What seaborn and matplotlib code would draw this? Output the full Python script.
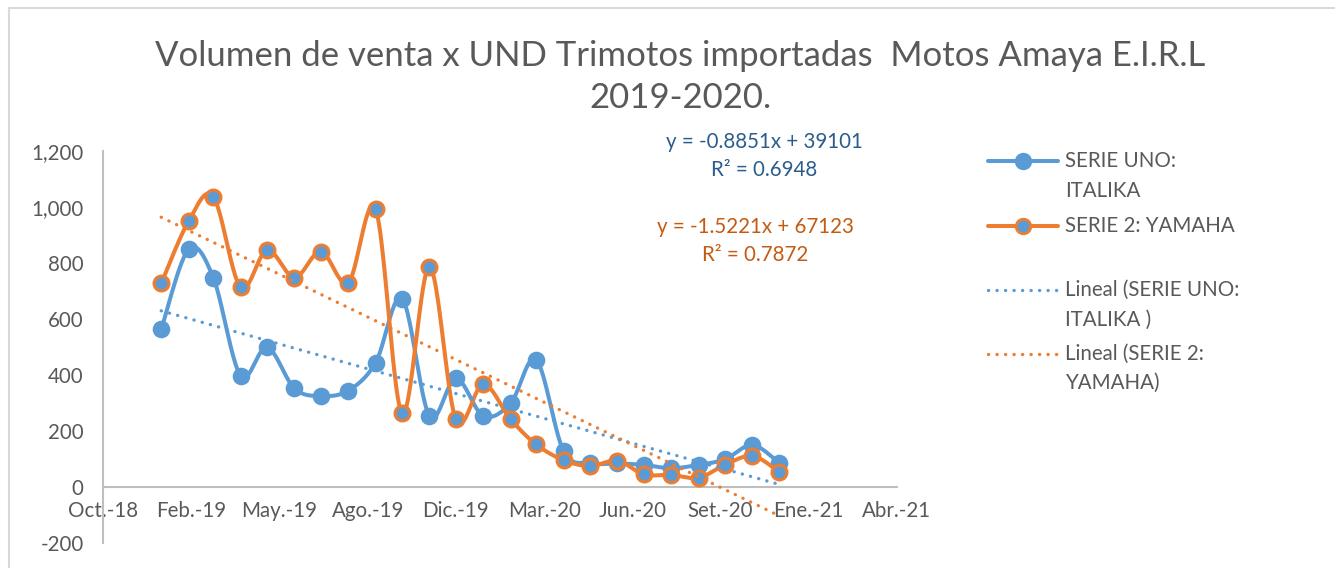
import numpy as np
import pandas as pd
import matplotlib
matplotlib.use("Agg")
import matplotlib.pyplot as plt
from matplotlib.lines import Line2D
import seaborn as sns

# monthly sales, Jan-2019 .. Dec-2020
months = pd.date_range("2019-01-01", "2020-12-01", freq="MS")
italika = [563, 849, 748, 398, 499, 352, 325, 344, 444, 673, 254, 388,
           254, 299, 454, 129, 85, 84, 79, 67, 79, 99, 150, 87]
yamaha = [727, 949, 1037, 713, 846, 748, 841, 730, 992, 263, 786, 242,
          367, 242, 152, 96, 75, 94, 45, 43, 33, 79, 111, 55]

# trendline coefficients shown on the chart (x = excel serial date)
trend_italika = (-0.8851, 39101)
trend_yamaha = (-1.5221, 67123)

tick_serials = [43400, 43500, 43600, 43700, 43800, 43900, 44000, 44100, 44200, 44300]
tick_labels = ["Oct.-18", "Feb.-19", "May.-19", "Ago.-19", "Dic.-19",
               "Mar.-20", "Jun.-20", "Set.-20", "Ene.-21", "Abr.-21"]
y_ticks = [-200, 0, 200, 400, 600, 800, 1000, 1200]

BLUE = "#5B9BD5"
ORANGE = "#ED7D31"
GREY = "#595959"
FS = 14.8

serial = np.array([(d - pd.Timestamp("1899-12-30")).days for d in months], dtype=float)


def smooth(x, y, n=24):
    # excel-like smoothed line (catmull-rom as cubic bezier)
    pts = np.column_stack([x, y]).astype(float)
    out = []
    for i in range(len(pts) - 1):
        p0 = pts[max(i - 1, 0)]
        p1 = pts[i]
        p2 = pts[i + 1]
        p3 = pts[min(i + 2, len(pts) - 1)]
        c1 = p1 + (p2 - p0) / 6
        c2 = p2 - (p3 - p1) / 6
        t = np.linspace(0, 1, n, endpoint=(i == len(pts) - 2))[:, None]
        out.append((1 - t) ** 3 * p1 + 3 * (1 - t) ** 2 * t * c1 + 3 * (1 - t) * t ** 2 * c2 + t ** 3 * p2)
    return np.vstack(out)


sns.set_theme(style="white")
plt.rcParams["font.family"] = ["Lato", "DejaVu Sans"]

W, H = 1335, 568
fig = plt.figure(figsize=(W / 100, H / 100), dpi=100)
ax = fig.add_axes([103 / W, 1 - 543 / H, (897 - 103) / W, (543 - 151) / H])

s1 = smooth(serial, italika)
s2 = smooth(serial, yamaha)
sns.lineplot(x=s1[:, 0], y=s1[:, 1], sort=False, color=BLUE, lw=2.9, ax=ax, zorder=2)
sns.scatterplot(x=serial, y=italika, s=125, color=BLUE, edgecolor=BLUE, linewidth=1.5, ax=ax, zorder=3)
sns.lineplot(x=s2[:, 0], y=s2[:, 1], sort=False, color=ORANGE, lw=2.9, ax=ax, zorder=4)
sns.scatterplot(x=serial, y=yamaha, s=115, color=BLUE, edgecolor=ORANGE, linewidth=2.2, ax=ax, zorder=5)

tx = np.array([serial[0], serial[-1]])
dot = (0, (0.05, 2.5))
sns.lineplot(x=tx, y=trend_italika[0] * tx + trend_italika[1], color=BLUE, lw=2.4,
             ax=ax, zorder=6).lines[-1].set(linestyle=dot, dash_capstyle="round")
sns.lineplot(x=tx, y=trend_yamaha[0] * tx + trend_yamaha[1], color=ORANGE, lw=2.4,
             ax=ax, zorder=6).lines[-1].set(linestyle=dot, dash_capstyle="round")

ax.set_xlim(tick_serials[0], tick_serials[-1])
ax.set_ylim(-200, 1200)
ax.set_xticks(tick_serials)
ax.set_xticklabels(tick_labels)
ax.set_yticks(y_ticks)
ax.set_yticklabels([f"{v:,}" for v in y_ticks])
ax.tick_params(axis="both", length=0, labelsize=FS, labelcolor=GREY)
ax.tick_params(axis="y", pad=14)
ax.tick_params(axis="x", pad=10)
for side in ["top", "right"]:
    ax.spines[side].set_visible(False)
ax.spines["bottom"].set_position(("data", 0))
for side in ["left", "bottom"]:
    ax.spines[side].set_color("#BFBFBF")
    ax.spines[side].set_linewidth(1.5)
ax.set_facecolor("none")
ax.grid(False)


def fx(px):
    return px / W


def fy(py):
    return 1 - py / H


# title
fig.text(fx(680), fy(56), "Volumen de venta x UND Trimotos importadas  Motos Amaya E.I.R.L",
         ha="center", va="center", fontsize=25, color=GREY)
fig.text(fx(680), fy(98), "2019-2020.", ha="center", va="center", fontsize=25, color=GREY)

# trendline equations
fig.text(fx(764), fy(142), "y = -0.8851x + 39101", ha="center", va="center", fontsize=FS, color="#2A5D8C")
fig.text(fx(764), fy(170), "R² = 0.6948", ha="center", va="center", fontsize=FS, color="#2A5D8C")
fig.text(fx(755), fy(227), "y = -1.5221x + 67123", ha="center", va="center", fontsize=FS, color="#C55A11")
fig.text(fx(755), fy(255), "R² = 0.7872", ha="center", va="center", fontsize=FS, color="#C55A11")


# legend
def leg_line(py, color, style="-", mfc=None, mec=None):
    ln = Line2D([fx(988), fx(1058)], [fy(py), fy(py)], transform=fig.transFigure,
                color=color, lw=2.9 if style == "-" else 2.4,
                linestyle=style if style == "-" else (0, (0.05, 2.5)), dash_capstyle="round")
    fig.add_artist(ln)
    if mfc is not None:
        fig.add_artist(Line2D([fx(1023)], [fy(py)], transform=fig.transFigure, marker="o",
                              markersize=10.5, markerfacecolor=mfc, markeredgecolor=mec,
                              markeredgewidth=2, linestyle="none"))


def leg_text(py, txt):
    fig.text(fx(1065), fy(py), txt, ha="left", va="center", fontsize=FS, color=GREY)


leg_line(161, BLUE, "-", BLUE, BLUE)
leg_text(161, "SERIE UNO:")
leg_text(191, "ITALIKA")
leg_line(226, ORANGE, "-", BLUE, ORANGE)
leg_text(226, "SERIE 2: YAMAHA")
leg_line(290, BLUE, ":")
leg_text(290, "Lineal (SERIE UNO:")
leg_text(320, "ITALIKA )")
leg_line(354, ORANGE, ":")
leg_text(354, "Lineal (SERIE 2:")
leg_text(383, "YAMAHA)")

# chart frame (top and left edges visible)
fig.add_artist(Line2D([fx(9), fx(W + 5)], [fy(8), fy(8)], transform=fig.transFigure, color="#D9D9D9", lw=1.5))
fig.add_artist(Line2D([fx(9), fx(9)], [fy(8), fy(H + 5)], transform=fig.transFigure, color="#D9D9D9", lw=1.5))

fig.savefig("out.png", dpi=100)
